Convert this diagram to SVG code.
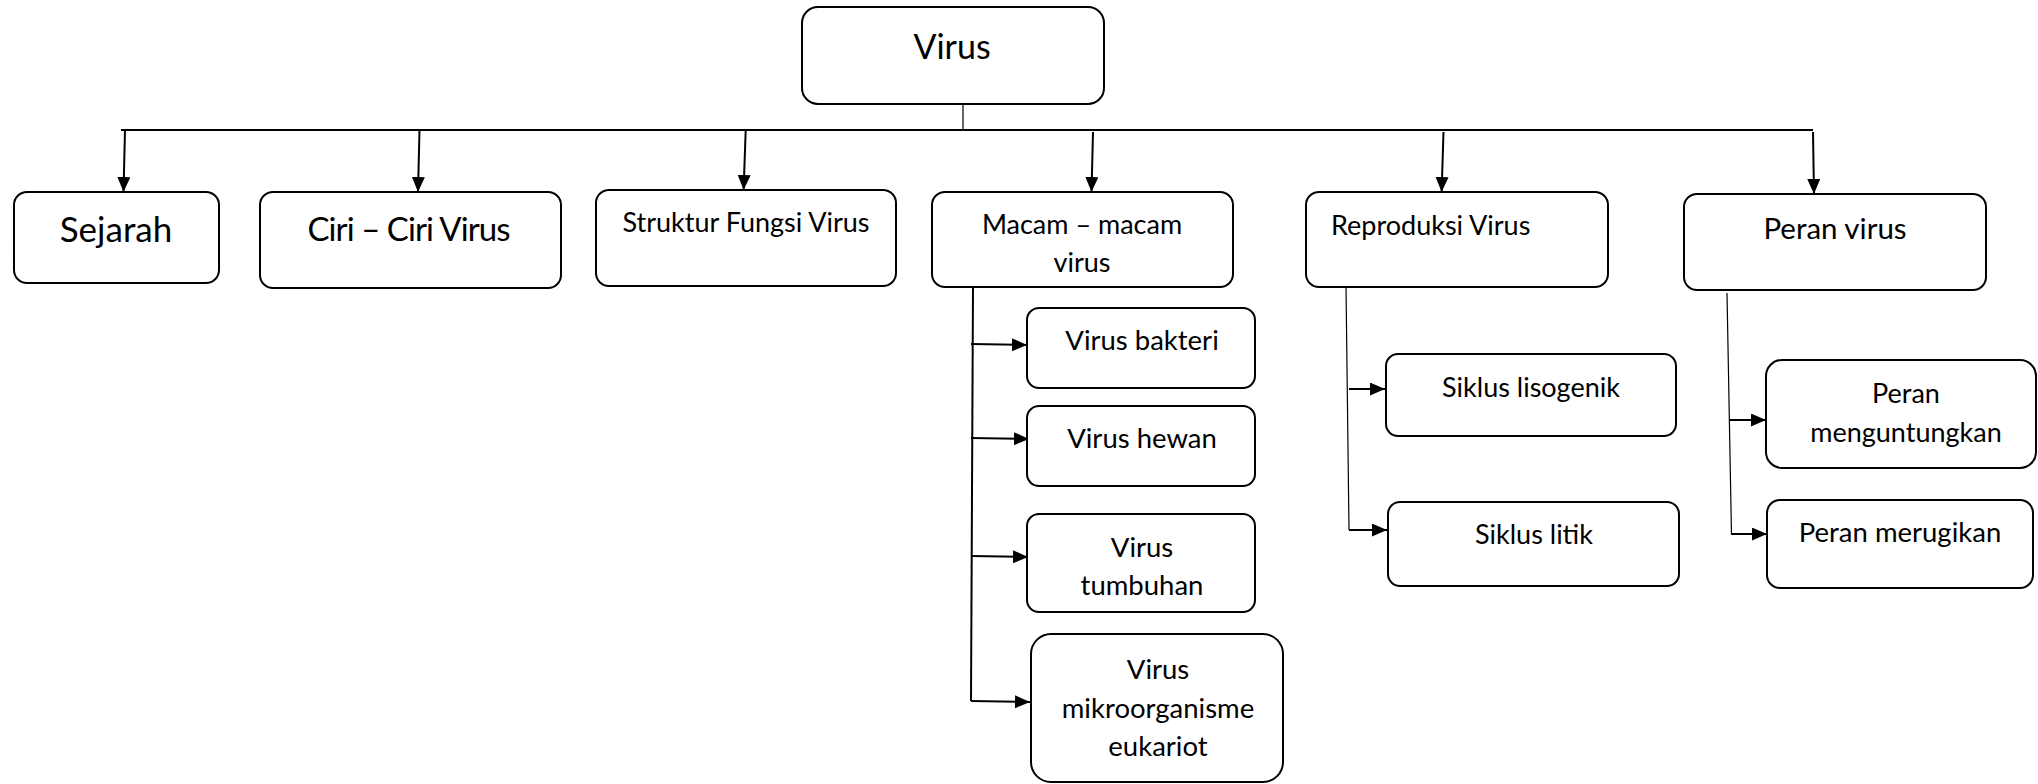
<svg xmlns="http://www.w3.org/2000/svg" width="2038" height="784" viewBox="0 0 2038 784">
<style>
.box{fill:#fff;stroke:#000;stroke-width:2}
.t{font-family:Lato,"Open Sans",sans-serif;fill:#000;text-anchor:middle}
.ts{font-family:Lato,"Open Sans",sans-serif;fill:#000;text-anchor:start}
.c{fill:none;stroke:#000;stroke-width:2}
.thin{fill:none;stroke:#000;stroke-width:1.2}
</style>
<defs>
<marker id="ah" markerUnits="userSpaceOnUse" markerWidth="16" markerHeight="14" refX="15" refY="6.5" orient="auto">
<path d="M0,0 L15,6.5 L0,13 z" fill="#000"/>
</marker>
</defs>
<rect width="2038" height="784" fill="#fff"/>
<g id="connectors">
<path class="thin" d="M963,104 L963,130"/>
<path class="c" d="M121,130 L1813,130"/>
<path class="c" d="M125,130 L123.5,192" marker-end="url(#ah)"/>
<path class="c" d="M419.5,130 L418,192" marker-end="url(#ah)"/>
<path class="c" d="M745.7,130 L743.6,190" marker-end="url(#ah)"/>
<path class="c" d="M1093,132 L1091.5,192" marker-end="url(#ah)"/>
<path class="c" d="M1443.5,132 L1441.6,192" marker-end="url(#ah)"/>
<path class="c" d="M1813,132 L1814,194" marker-end="url(#ah)"/>
<path class="c" d="M973,286 L971,701"/>
<path class="c" d="M971,344 L1027,345" marker-end="url(#ah)"/>
<path class="c" d="M971,438 L1029,439" marker-end="url(#ah)"/>
<path class="c" d="M971,556 L1028,557" marker-end="url(#ah)"/>
<path class="c" d="M971,701 L1030,702" marker-end="url(#ah)"/>
<path class="thin" d="M1346,286 L1349,530"/>
<path class="c" d="M1349,389 L1385,389" marker-end="url(#ah)"/>
<path class="c" d="M1349,530 L1387,530" marker-end="url(#ah)"/>
<path class="thin" d="M1727,293 L1731.5,535"/>
<path class="c" d="M1730,420 L1766,420" marker-end="url(#ah)"/>
<path class="c" d="M1731.5,534 L1767,534" marker-end="url(#ah)"/>
</g>
<g id="n-virus"><rect class="box" x="802" y="7" width="302" height="97" rx="16"/><text class="t" x="952" y="59" font-size="34">Virus</text></g>
<g id="n-sejarah"><rect class="box" x="14" y="192" width="205" height="91" rx="13"/><text class="t" x="116" y="242" font-size="35">Sejarah</text></g>
<g id="n-ciri"><rect class="box" x="260" y="192" width="301" height="96" rx="13"/><text class="t" x="409" y="241" font-size="33" textLength="203" lengthAdjust="spacing">Ciri – Ciri Virus</text></g>
<g id="n-struktur"><rect class="box" x="596" y="190" width="300" height="96" rx="13"/><text class="t" x="746" y="232" font-size="27">Struktur Fungsi Virus</text></g>
<g id="n-macam"><rect class="box" x="932" y="192" width="301" height="95" rx="13"/><text class="t" x="1082" y="234" font-size="27">Macam – macam</text><text class="t" x="1082" y="272" font-size="27">virus</text></g>
<g id="n-reproduksi"><rect class="box" x="1306" y="192" width="302" height="95" rx="13"/><text class="ts" x="1331" y="235" font-size="27">Reproduksi Virus</text></g>
<g id="n-peran"><rect class="box" x="1684" y="194" width="302" height="96" rx="13"/><text class="t" x="1835" y="239" font-size="29.5">Peran virus</text></g>
<g id="n-bakteri"><rect class="box" x="1027" y="308" width="228" height="80" rx="12"/><text class="t" x="1142" y="350" font-size="27.5">Virus bakteri</text></g>
<g id="n-hewan"><rect class="box" x="1027" y="406" width="228" height="80" rx="12"/><text class="t" x="1142" y="448" font-size="27.5">Virus hewan</text></g>
<g id="n-tumbuhan"><rect class="box" x="1027" y="514" width="228" height="98" rx="12"/><text class="t" x="1142" y="557" font-size="27.5">Virus</text><text class="t" x="1142" y="595" font-size="27.5">tumbuhan</text></g>
<g id="n-mikro"><rect class="box" x="1031" y="634" width="252" height="148" rx="20"/><text class="t" x="1158" y="679" font-size="27.5">Virus</text><text class="t" x="1158" y="718" font-size="27.5">mikroorganisme</text><text class="t" x="1158" y="756" font-size="27.5">eukariot</text></g>
<g id="n-lisogenik"><rect class="box" x="1386" y="354" width="290" height="82" rx="12"/><text class="t" x="1531" y="397" font-size="27">Siklus lisogenik</text></g>
<g id="n-litik"><rect class="box" x="1388" y="502" width="291" height="84" rx="12"/><text class="t" x="1534" y="544" font-size="27">Siklus litik</text></g>
<g id="n-menguntungkan"><rect class="box" x="1766" y="360" width="270" height="108" rx="16"/><text class="t" x="1906" y="403" font-size="27">Peran</text><text class="t" x="1906" y="442" font-size="27">menguntungkan</text></g>
<g id="n-merugikan"><rect class="box" x="1767" y="500" width="266" height="88" rx="13"/><text class="t" x="1900" y="542" font-size="27.5">Peran merugikan</text></g>
</svg>
